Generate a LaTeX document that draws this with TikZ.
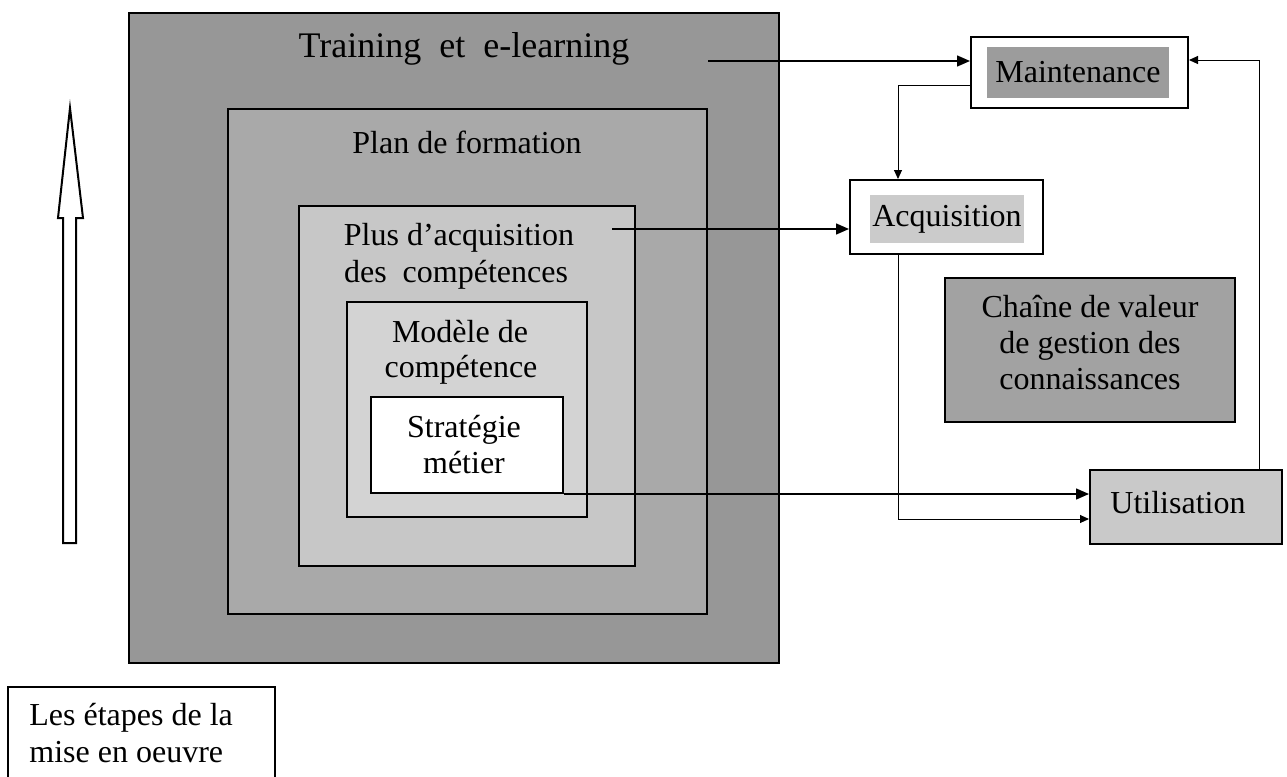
\documentclass[tikz,border=0pt]{standalone}
\usepackage{fontspec}
\setmainfont{Liberation Serif}
\usetikzlibrary{arrows.meta,fit,calc}

% shades of the nested rings and of the side boxes
\definecolor{ringA}{HTML}{979797}
\definecolor{ringB}{HTML}{A9A9A9}
\definecolor{ringC}{HTML}{C7C7C7}
\definecolor{ringD}{HTML}{D3D3D3}
\definecolor{chainFill}{HTML}{A2A2A2}
\definecolor{utilFill}{HTML}{C9C9C9}
\definecolor{hiDark}{HTML}{9C9C9C}
\definecolor{hiLight}{HTML}{CBCBCB}

\begin{document}
\begin{tikzpicture}[x=0.5pt,y=-0.5pt,
  box/.style={draw=black, line width=1pt, inner sep=0pt},
  lbl/.style={font=\fontsize{16}{18}\selectfont, inner sep=0pt, anchor=base},
  hilite/.style={font=\fontsize{16}{18}\selectfont, inner ysep=0pt},
  conn/.style={line width=0.75pt, -{Triangle[length=6.5pt,width=5.5pt]}},
  faint/.style={line width=0.5pt, -{Triangle[length=4.5pt,width=4pt]}}]

\clip (0,0) rectangle (1287,777);
\fill[white] (0,0) rectangle (1287,777);

% nested rings, from the outside in
\node[box, fill=ringA, fit={(129,13) (779,663)}] (train) {};
\node[box, fill=ringB, fit={(228,109) (707,614)}] (plan) {};
\node[box, fill=ringC, fit={(299,206) (635,566)}] (plus) {};
\node[box, fill=ringD, fit={(347,302) (587,517)}] (modele) {};
\node[box, fill=white, fit={(371,397) (563,493)}] (strat) {};

\node[lbl, font=\fontsize{18}{20}\selectfont] (trainT) at (464,57) {Training\ \ et\ \ e-learning};
\node[lbl] (planT) at (467,153) {Plan de formation};
\node[lbl] (plusT1) at (459,245) {Plus d’acquisition};
\node[lbl] (plusT2) at (456,282) {des\ \ compétences};
\node[lbl] (modeleT1) at (460,342) {Modèle de};
\node[lbl] (modeleT2) at (461,377) {compétence};
\node[lbl] (stratT1) at (464,437) {Stratégie};
\node[lbl] (stratT2) at (464,473) {métier};

% knowledge value chain on the right
\node[box, fit={(971,37) (1188,108)}] (maint) {};
\node[hilite, fill=hiDark, inner xsep=4pt, minimum height=25.5pt] (maintT) at (1078,72) {Maintenance};

\node[box, fit={(850,180) (1043,254)}] (acq) {};
\node[hilite, fill=hiLight, inner xsep=1pt, minimum height=24pt] (acqT) at (947,219) {Acquisition};

\node[box, fill=chainFill, fit={(945,278) (1235,422)}] (chain) {};
\node[lbl] (chainT1) at (1090,317) {Chaîne de valeur};
\node[lbl] (chainT2) at (1090,353) {de gestion des};
\node[lbl] (chainT3) at (1090,389) {connaissances};

\node[box, fill=utilFill, fit={(1090,470) (1282,544)}] (util) {};
\node[lbl] (utilT) at (1178,513) {Utilisation};

% caption box at the bottom left
\node[box, fit={(8,687) (275,790)}] (steps) {};
\node[lbl, anchor=base west] (stepsT1) at (29,725) {Les étapes de la};
\node[lbl, anchor=base west] (stepsT2) at (29,762) {mise en oeuvre};

% hollow upward arrow
\draw[line width=1pt, fill=white, line join=miter]
  (63,543) -- (63,218) -- (58,218) -- (70,108) -- (83,218) -- (76,218) -- (76,543) -- cycle;

% connectors
\coordinate (trainEnd) at (708,61);
\coordinate (plusEnd) at (612,229);
\coordinate (mk) at (898,85);
\coordinate (uk) at (898,519);
\coordinate (rk) at (1259,60);

\draw[conn] (trainEnd) -- (trainEnd -| maint.west);
\draw[faint] (mk -| maint.west) -- (mk) -- (mk |- acq.north);
\draw[conn] (plusEnd) -- (plusEnd -| acq.west);
\draw[faint] (mk |- acq.south) -- (uk) -- (uk -| util.west);
\draw[conn] (strat.south east) -- (strat.south east -| util.west);
\draw[faint] (rk |- util.north) -- (rk) -- (rk -| maint.east);
\end{tikzpicture}
\end{document}
